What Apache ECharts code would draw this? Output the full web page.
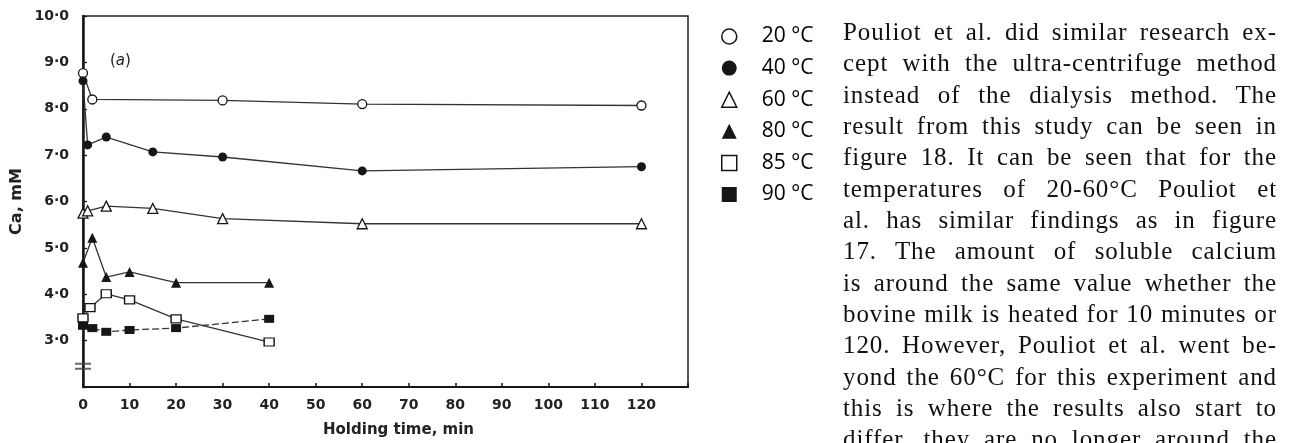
<!DOCTYPE html>
<html>
<head>
<meta charset="utf-8">
<script src="https://cdn.jsdelivr.net/npm/echarts@6.0.0/dist/echarts.min.js"></script>
<style>
  html, body { margin: 0; padding: 0; background: #fff; overflow: hidden; }
  #wrap { position: relative; width: 1293px; height: 443px; overflow: hidden; }
  #chart { position: absolute; left: 0; top: 0; width: 1293px; height: 443px; }
  #text {
    position: absolute; left: 843px; top: 16px; width: 434px;
    font-family: 'Liberation Serif', serif; font-size: 25px; line-height: 31.35px; color: #111;
    letter-spacing: 0.9px;
  }
  #text div { text-align: justify; text-align-last: justify; white-space: nowrap; }
</style>
</head>
<body>
<div id="wrap">
  <div id="chart"></div>
  <div id="text"></div>
</div>
<script>
// holding time (min) and soluble Ca (mM) per heating temperature
const times20 = [0, 2, 30, 60, 120]
const ca20 = [8.77, 8.2, 8.18, 8.1, 8.07]
const times40 = [0, 1, 5, 15, 30, 60, 120]
const ca40 = [8.6, 7.22, 7.39, 7.07, 6.96, 6.66, 6.75]
const times60 = [0, 1, 5, 15, 30, 60, 120]
const ca60 = [5.75, 5.8, 5.9, 5.85, 5.63, 5.52, 5.52]
const times80 = [0, 2, 5, 10, 20, 40]
const ca80 = [4.68, 5.22, 4.37, 4.48, 4.25, 4.25]
const times85 = [0, 1.5, 5, 10, 20, 40]
const ca85 = [3.49, 3.71, 4.01, 3.88, 3.47, 2.97]
const times90 = [0, 2, 5, 10, 20, 40]
const ca90 = [3.32, 3.27, 3.19, 3.23, 3.27, 3.47]

const seriesNames = ['20 °C', '40 °C', '60 °C', '80 °C', '85 °C', '90 °C']
const xTicks = [0, 10, 20, 30, 40, 50, 60, 70, 80, 90, 100, 110, 120]
const yTicks = [3, 4, 5, 6, 7, 8, 9, 10]

const bodyLines = [
  'Pouliot et al. did similar research ex-',
  'cept with the ultra-centrifuge method',
  'instead of the dialysis method.  The',
  'result from this study can be seen in',
  'figure 18.  It can be seen that for the',
  'temperatures of 20-60°C Pouliot et',
  'al.  has similar findings as in figure',
  '17.  The amount of soluble calcium',
  'is around the same value whether the',
  'bovine milk is heated for 10 minutes or',
  '120. However, Pouliot et al. went be-',
  'yond the 60°C for this experiment and',
  'this is where the results also start to',
  'differ, they are no longer around the'
]

document.getElementById('text').innerHTML = bodyLines.map(l => '<div>' + l + '</div>').join('')

const ink = '#161616'

function makeSeries(name, times, values, symbol, filled, dashed) {
  return {
    name: name,
    type: 'line',
    data: times.map((t, i) => [t, values[i]]),
    symbol: symbol,
    symbolSize: symbol === 'rect' ? [10, 8] : (symbol === 'triangle' ? 10 : 9),
    itemStyle: {
      color: filled ? ink : '#fff',
      borderColor: ink,
      borderWidth: filled ? 0 : 1.3
    },
    lineStyle: { color: '#333', width: 1.3, type: dashed ? [7, 3] : 'solid' },
    z: 3,
    animation: false
  }
}

const legendStyle = [
  ['circle', false], ['circle', true], ['triangle', false],
  ['triangle', true], ['rect', false], ['rect', true]
]

const chart = echarts.init(document.getElementById('chart'))
chart.setOption({
  animation: false,
  grid: {
    left: 83, top: 16, right: 605, bottom: 56,
    show: true, borderColor: '#222', borderWidth: 1.5, backgroundColor: 'transparent'
  },
  xAxis: {
    type: 'value', min: 0, max: 130, interval: 10,
    name: 'Holding time, min', nameLocation: 'middle', nameGap: 36,
    nameTextStyle: { fontFamily: 'DejaVu Sans', fontWeight: 'bold', fontSize: 15, color: '#222', padding: [0, 0, 0, 26] },
    axisLine: { show: true, lineStyle: { color: ink, width: 2 } },
    axisTick: { show: true, inside: true, length: 4, lineStyle: { color: ink, width: 1.5 } },
    axisLabel: {
      margin: 11, fontFamily: 'DejaVu Sans', fontWeight: 'bold', fontSize: 14, color: '#222',
      formatter: v => xTicks.indexOf(v) >= 0 ? String(v) : ''
    },
    splitLine: { show: false }
  },
  yAxis: {
    type: 'value', min: 2, max: 10, interval: 1,
    name: 'Ca, mM', nameLocation: 'middle', nameGap: 58, nameRotate: 90,
    nameTextStyle: { fontFamily: 'DejaVu Sans', fontWeight: 'bold', fontSize: 16, color: '#222' },
    axisLine: { show: true, lineStyle: { color: ink, width: 2.5 } },
    axisTick: { show: true, inside: true, length: 4, lineStyle: { color: ink, width: 1.3 } },
    axisLabel: {
      margin: 14, fontFamily: 'DejaVu Sans', fontWeight: 'bold', fontSize: 14, color: '#222',
      formatter: v => yTicks.indexOf(v) >= 0 ? v.toFixed(1).replace('.', '·') : ''
    },
    splitLine: { show: false }
  },
  legend: {
    orient: 'vertical', left: 716, top: 21,
    itemWidth: 15, itemHeight: 15, itemGap: 10.6,
    selectedMode: false,
    textStyle: { fontFamily: 'Open Sans', fontSize: 21, color: '#000', padding: [0, 0, 0, 20] },
    data: seriesNames.map((n, i) => ({
      name: n,
      icon: legendStyle[i][0],
      itemStyle: {
        color: legendStyle[i][1] ? ink : '#fff',
        borderColor: ink,
        borderWidth: legendStyle[i][1] ? 0 : 1.5
      }
    }))
  },
  graphic: [{
    type: 'text', left: 110, top: 54,
    style: {
      text: '({i|a})', fontFamily: 'DejaVu Sans', fontSize: 15, fill: '#222',
      rich: { i: { fontStyle: 'italic', fontFamily: 'DejaVu Sans', fontSize: 15, color: '#222' } }
    }
  }],
  series: [
    makeSeries(seriesNames[0], times20, ca20, 'circle', false, false),
    makeSeries(seriesNames[1], times40, ca40, 'circle', true, false),
    makeSeries(seriesNames[2], times60, ca60, 'triangle', false, false),
    makeSeries(seriesNames[3], times80, ca80, 'triangle', true, false),
    makeSeries(seriesNames[4], times85, ca85, 'rect', false, false),
    makeSeries(seriesNames[5], times90, ca90, 'rect', true, true),
    {
      // axis break mark
      type: 'scatter', silent: true, z: 4,
      data: [[0, 2.45]],
      symbol: 'path://M0,0h16v2h-16z M0,5h16v2h-16z',
      symbolSize: [16, 7],
      itemStyle: { color: '#444' }
    }
  ]
})
</script>
</body>
</html>
